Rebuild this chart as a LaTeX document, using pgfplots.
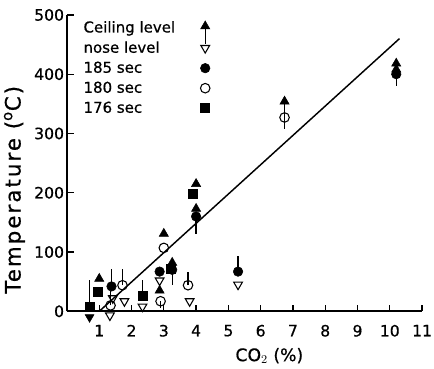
\documentclass[border=0pt]{standalone}
\usepackage{fontspec}
\setmainfont{DejaVu Sans}[FakeBold=0.6]
\newfontfamily\ylabfont{DejaVu Sans}[FakeBold=0.6, LetterSpace=10]
\usepackage{pgfplots}
\pgfplotsset{compat=1.18}
\usepackage{pgfplotstable}

\pgfplotstableread{
x y ep em
1.0 55 0 0
3.0 131 0 0
2.87 35 0 0
3.26 82 0 38
4.0 215 0 0
4.0 173 0 0
6.74 354 0 0
10.2 418 0 0
10.2 408 0 0
}\ceiling
\pgfplotstableread{
x y ep em
1.33 -7 0 0
1.42 22 0 0
1.78 17 0 0
2.34 8 0 0
2.87 52 0 0
3.8 17 0 0
5.3 45 0 0
}\nose
\pgfplotstableread{
x y ep em
1.38 42 30 0
2.87 67 0 0
3.26 70 0 0
4.0 160 0 30
5.3 67 27 0
10.2 400 0 20
}\secA
\pgfplotstableread{
x y ep em
1.35 10 25 0
1.72 44 28 0
2.9 17 0 12
3.0 107 0 0
3.75 44 22 0
6.74 327 27 20
}\secB
\pgfplotstableread{
x y ep em
0.7 8 45 0
0.95 33 0 0
2.34 27 25 0
3.9 198 0 0
3.22 72 0 0
}\secC

\begin{document}
\begin{tikzpicture}
\begin{axis}[
  name=ax,
  scale only axis,
  width=267.75pt, height=223.5pt,
  xmin=0, xmax=11, ymin=0, ymax=500,
  axis lines=left,
  axis line style={-, line width=1.4pt},
  clip=false,
  xtick={1,2,...,11},
  ytick={0,100,...,500},
  tick align=inside,
  major tick length=5pt,
  tick style={line width=0.9pt, black},
  /pgf/number format/assume math mode=true,
  ticklabel style={font=\fontsize{11.8}{13}\selectfont, inner sep=1pt},
  xticklabel style={yshift=-9pt},
  yticklabel style={xshift=-1pt},
  xlabel={CO$_2$ (\%)},
  ylabel={Temperature ($^{\mathrm{o}}$C)},
  xlabel style={font=\fontsize{13}{15}\selectfont, at={(axis description cs:0.57,-0.15)}, anchor=center, inner sep=1pt},
  ylabel style={font=\ylabfont\fontsize{16}{18}\selectfont, at={(axis description cs:-0.148,0.41)}, anchor=center, rotate=0, inner sep=1pt},
  legend style={at={(axis cs:0.3,499)}, anchor=north west, draw=none, fill=none,
     font=\fontsize{11.3}{13}\selectfont, row sep=1.2pt},
  legend cell align=left,
  legend plot pos=right,
  error bars/error bar style={line width=0.9pt, black},
]
\addplot[only marks, mark=triangle*, mark size=4pt, black,
  legend image code/.code={
    \path (0cm,0cm);
    \draw[overlay, line width=0.9pt, black] (0.72cm,0cm) -- (0.72cm,-0.42cm);
    \draw[black] plot[mark=triangle*, mark size=4pt] coordinates {(0.72cm,0.04cm)};},
  error bars/.cd, y dir=both, y explicit, error mark=none]
  table[x=x, y=y, y error plus=ep, y error minus=em] {\ceiling};
\addlegendentry{Ceiling level}
\addplot[only marks, mark=triangle, mark size=3.8pt, black, mark options={rotate=180, fill=white, line width=0.8pt},
  legend image code/.code={\path (0cm,0cm); \draw[black] plot[mark=triangle, mark size=3.8pt, mark options={rotate=180, fill=white, line width=0.8pt}] coordinates {(0.72cm,0cm)};}]
  table[x=x, y=y] {\nose};
\addlegendentry{nose level}
\addplot[only marks, mark=*, mark size=3.6pt, black,
  legend image code/.code={\path (0cm,0cm); \draw[black] plot[mark=*, mark size=3.6pt] coordinates {(0.72cm,0cm)};},
  error bars/.cd, y dir=both, y explicit, error mark=none]
  table[x=x, y=y, y error plus=ep, y error minus=em] {\secA};
\addlegendentry{185 sec}
\addplot[only marks, mark=o, mark size=3.6pt, black, mark options={fill=white, line width=0.8pt},
  legend image code/.code={\path (0cm,0cm); \draw[black] plot[mark=o, mark size=3.6pt, mark options={fill=white, line width=0.8pt}] coordinates {(0.72cm,0cm)};},
  error bars/.cd, y dir=both, y explicit, error mark=none]
  table[x=x, y=y, y error plus=ep, y error minus=em] {\secB};
\addlegendentry{180 sec}
\addplot[only marks, mark=square*, mark size=3.4pt, black,
  legend image code/.code={\path (0cm,0cm); \draw[black] plot[mark=square*, mark size=3.4pt] coordinates {(0.72cm,0cm)};},
  error bars/.cd, y dir=both, y explicit, error mark=none]
  table[x=x, y=y, y error plus=ep, y error minus=em] {\secC};
\addlegendentry{176 sec}
\addplot[only marks, mark=triangle*, mark size=3.8pt, black, mark options={rotate=180}, forget plot]
  coordinates {(0.7,-10)};
\addplot[line width=1.1pt, black, no marks, forget plot] coordinates {(1.0,0) (10.3,460)};
\end{axis}
\pgfresetboundingbox
\path[use as bounding box] ([shift={(-50.5pt,-42.75pt)}]ax.south west) rectangle ([shift={(9pt,11.25pt)}]ax.north east);
\end{tikzpicture}
\end{document}
